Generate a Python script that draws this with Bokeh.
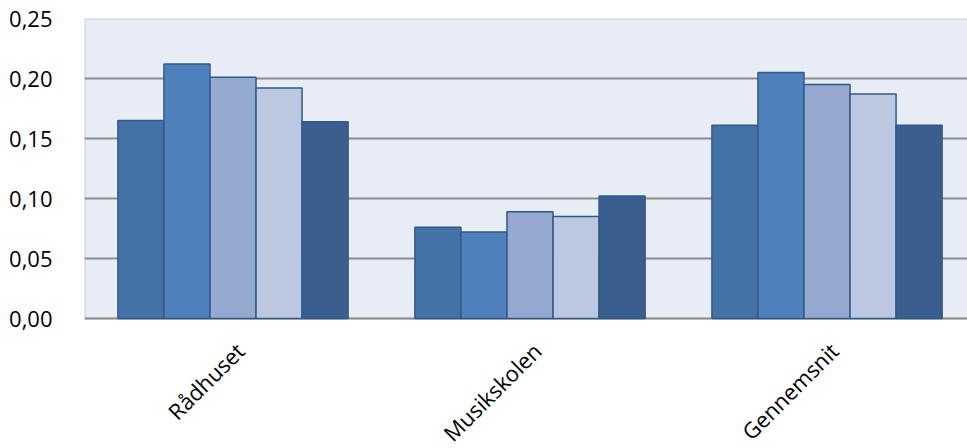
from bokeh.plotting import figure
from bokeh.models import FixedTicker, CustomJSTickFormatter, BoxAnnotation
from bokeh.core.properties import value
from bokeh.embed import file_html
from bokeh.resources import INLINE
import math

categories = ["Rådhuset", "Musikskolen", "Gennemsnit"]
series1 = [0.165, 0.076, 0.161]
series2 = [0.212, 0.072, 0.205]
series3 = [0.201, 0.089, 0.195]
series4 = [0.192, 0.085, 0.187]
series5 = [0.164, 0.102, 0.161]
y_ticks = [0.0, 0.05, 0.10, 0.15, 0.20, 0.25]

series = [series1, series2, series3, series4, series5]
colors = ["#4472A7", "#4F81BD", "#95A9D1", "#BCC8E1", "#3A5F8F"]
offsets = [-0.31, -0.155, 0.0, 0.155, 0.31]
bar_w = 0.155

y_max = 0.25
# frame extends below zero so the rotated category names can sit inside it
p = figure(width=967, height=448, output_backend="svg", toolbar_location=None,
           x_range=(0, 2.973), y_range=(-y_max * 130 / 300, y_max))
p.min_border_left = 84
p.min_border_top = 18
p.min_border_right = 0
p.min_border_bottom = 0
p.background_fill_color = "white"
p.border_fill_color = "white"
p.outline_line_color = None
p.xaxis.visible = False

# plot area background (0 .. 0.25, across the three categories)
p.add_layout(BoxAnnotation(left=0, right=len(categories), bottom=0, top=y_max,
                           fill_color="#E8ECF5", fill_alpha=1.0,
                           line_color="#8C8C8C", line_width=2, level="image"))

centers = [i + 0.5 for i in range(len(categories))]
for s, c, off in zip(series, colors, offsets):
    xs = [x + off for x in centers]
    p.vbar(x=xs, top=s, bottom=0, width=bar_w, fill_color=c,
           line_color="#30598A", line_width=1.5)

# category labels, rotated 45 degrees, right end anchored near each category centre
p.text(x=centers, y=[0.0] * len(categories), text=categories, angle=math.pi / 4,
       x_offset=7, y_offset=28, text_align="right", text_baseline="middle",
       text_font=value("Open Sans"), text_font_size="22px", text_color="black")

p.yaxis.ticker = FixedTicker(ticks=y_ticks)
p.yaxis.formatter = CustomJSTickFormatter(code="return tick.toFixed(2).replace('.', ',');")
p.yaxis.major_tick_line_color = None
p.yaxis.minor_tick_line_color = None
p.yaxis.axis_line_color = None
p.yaxis.major_label_text_font = "Open Sans"
p.yaxis.major_label_text_font_size = "22px"
p.yaxis.major_label_text_color = "black"
p.yaxis.major_label_standoff = 26

p.xgrid.grid_line_color = None
p.ygrid.ticker = FixedTicker(ticks=y_ticks)
p.ygrid.grid_line_color = "#8C8C8C"
p.ygrid.grid_line_width = 2
p.ygrid.level = "underlay"

open("out.html", "w").write(file_html(p, INLINE))
